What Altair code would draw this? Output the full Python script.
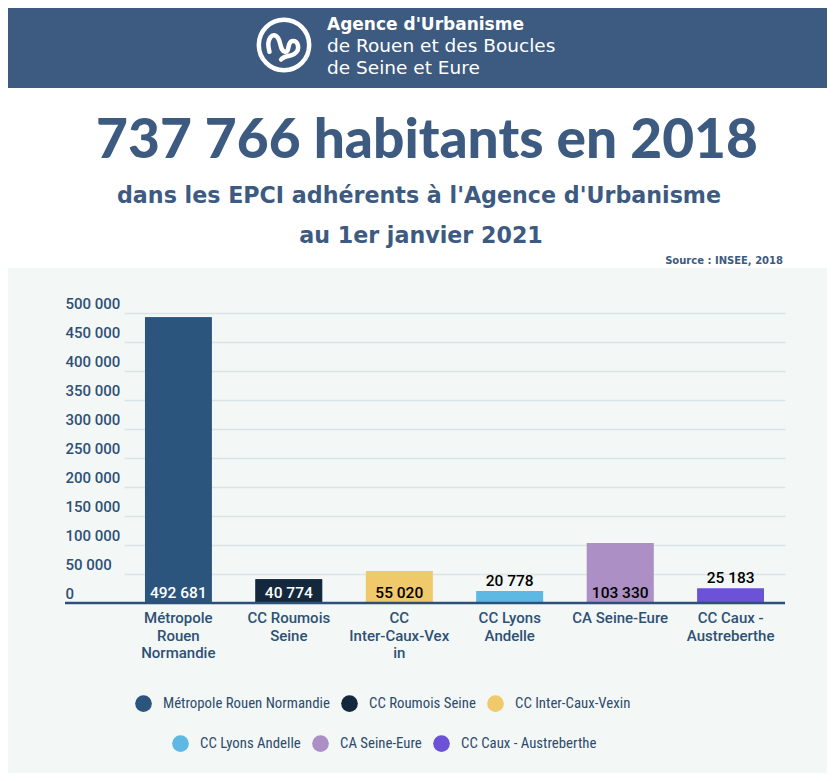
import altair as alt
import pandas as pd

# ---------------- data ----------------
categories = ["Métropole Rouen Normandie", "CC Roumois Seine", "CC Inter-Caux-Vexin",
              "CC Lyons Andelle", "CA Seine-Eure", "CC Caux - Austreberthe"]
values = [492681, 40774, 55020, 20778, 103330, 25183]
axis_labels = ["Métropole\nRouen\nNormandie", "CC Roumois\nSeine", "CC\nInter-Caux-Vex\nin",
               "CC Lyons\nAndelle", "CA Seine-Eure", "CC Caux -\nAustreberthe"]
colors = ["#2b557c", "#14283d", "#f0c96a", "#5db8e4", "#ab8fc5", "#6b52d6"]
y_ticks = [0, 50000, 100000, 150000, 200000, 250000, 300000, 350000, 400000, 450000, 500000]

title = "737 766 habitants en 2018"
subtitle1 = "dans les EPCI adhérents à l'Agence d'Urbanisme"
subtitle2 = "au 1er janvier 2021"
source = "Source : INSEE, 2018"
header_lines = ["Agence d'Urbanisme", "de Rouen et des Boucles", "de Seine et Eure"]

# ---------------- styles ----------------
DARK = "#3d5a80"
TXT = "#2f5075"
FONT = "Roboto"
W, H = 720, 290


def is_dark(hex_color):
    r, g, b = (int(hex_color[i:i + 2], 16) for i in (1, 3, 5))
    return 0.299 * r + 0.587 * g + 0.114 * b < 128


inside = [v >= 30000 for v in values]
df = pd.DataFrame({
    "category": categories,
    "value": values,
    "wrapped": axis_labels,
    "on_dark": [ins and is_dark(c) for ins, c in zip(inside, colors)],
})
one = pd.DataFrame({"k": [0]})

x_enc = alt.X("category:N", sort=categories, axis=None,
              scale=alt.Scale(domain=categories, range=[59, 720],
                              paddingInner=0.396, paddingOuter=0.19))
y_scale = alt.Scale(domain=[0, 500000], nice=False)
y_axis = alt.Axis(values=y_ticks, grid=True, gridColor="#dae4e7", gridWidth=1.5,
                  domain=False, ticks=False, labelAlign="left", labelBaseline="alphabetic",
                  labelPadding=0, labelOffset=-5, labelOverlap=False,
                  labelExpr="replace(format(datum.value, ','), ',', ' ')",
                  labelFont=FONT, labelFontSize=15, labelFontWeight=500,
                  labelColor=TXT, title=None)

# ---------------- background pieces ----------------
white_area = alt.Chart(one).mark_rect(color="white").encode(
    x=alt.value(-80), x2=alt.value(800), y=alt.value(-330), y2=alt.value(-45))
header_band = alt.Chart(one).mark_rect(color=DARK).encode(
    x=alt.value(-80), x2=alt.value(800), y=alt.value(-330), y2=alt.value(-225))

logo_ring = alt.Chart(one).mark_point(shape="circle", size=2540, filled=False,
                                      stroke="white", strokeWidth=4.5, opacity=1).encode(
    x=alt.value(219), y=alt.value(-268))
squiggle = ("M -0.75 0.35 C -0.95 -0.35 -0.55 -0.75 -0.3 -0.35 C -0.15 -0.1 -0.2 0.3 0.05 0.35 "
            "C 0.3 0.4 0.15 -0.1 0.4 -0.2 C 0.75 -0.3 0.85 0.25 0.55 0.45 C 0.35 0.6 0.0 0.55 -0.15 0.75")
logo_snake = alt.Chart(one).mark_point(shape=squiggle, size=1500, filled=False,
                                       stroke="white", strokeWidth=4.5, opacity=1,
                                       strokeCap="round").encode(
    x=alt.value(219), y=alt.value(-268))

hdr = []
for txt, wt, fs, yy in zip(header_lines, ["bold", "normal", "normal"], [17, 18.5, 18.5], [-283, -261, -239]):
    hdr.append(alt.Chart(one).mark_text(text=txt, font="DejaVu Sans", fontSize=fs, fontWeight=wt,
                                        color="white", align="left", baseline="alphabetic").encode(
        x=alt.value(262), y=alt.value(yy)))

t_main = alt.Chart(one).mark_text(text=title, font="Lato", fontSize=55, fontWeight=900,
                                  color=DARK, align="center", baseline="alphabetic").encode(
    x=alt.value(362), y=alt.value(-155))
t_sub1 = alt.Chart(one).mark_text(text=subtitle1, font="DejaVu Sans", fontSize=22.2, fontWeight="bold",
                                  color=DARK, align="center", baseline="alphabetic").encode(
    x=alt.value(354), y=alt.value(-110))
t_sub2 = alt.Chart(one).mark_text(text=subtitle2, font="DejaVu Sans", fontSize=22.2, fontWeight="bold",
                                  color=DARK, align="center", baseline="alphabetic").encode(
    x=alt.value(356), y=alt.value(-70))
t_src = alt.Chart(one).mark_text(text=source, font="DejaVu Sans", fontSize=10, fontWeight="bold",
                                 color=DARK, align="right", baseline="alphabetic").encode(
    x=alt.value(718), y=alt.value(-49))

# ---------------- chart ----------------
LEGEND_FONT = "Liberation Sans Narrow, Roboto Condensed, Roboto"
legend_common = dict(orient="none", direction="horizontal", title=None, symbolType="circle",
                     symbolSize=279, symbolStrokeWidth=0, labelFont=LEGEND_FONT, labelFontSize=14.8,
                     labelFontWeight="normal", labelColor="#2d4a6b", labelOffset=11, columnPadding=11,
                     padding=0, labelLimit=400, symbolOpacity=1)

bars_under = alt.Chart(df).mark_bar().encode(
    x=x_enc,
    y=alt.Y("value:Q", scale=y_scale, axis=y_axis),
    fill=alt.Fill("category:N", scale=alt.Scale(domain=categories, range=colors),
                  legend=alt.Legend(values=categories[3:], legendX=107, legendY=422, **legend_common)),
)
bars_over = alt.Chart(df).mark_bar().encode(
    x=x_enc,
    y=alt.Y("value:Q", scale=y_scale, axis=y_axis),
    color=alt.Color("category:N", scale=alt.Scale(domain=categories, range=colors),
                    legend=alt.Legend(values=categories[:3], legendX=70, legendY=382, **legend_common)),
)

baseline = alt.Chart(one).mark_rule(color="#2c5079", strokeWidth=2.5).encode(
    y=alt.value(H), x=alt.value(0), x2=alt.value(W))

value_labels = alt.Chart(df).transform_calculate(
    ly="datum.value < 30000 ? datum.value : 0",
    txt="replace(format(datum.value, ','), ',', ' ')",
).mark_text(dy=-5, baseline="alphabetic", font=FONT, fontSize=15.5, fontWeight=500).encode(
    x=x_enc,
    y=alt.Y("ly:Q", scale=y_scale, axis=y_axis),
    text="txt:N",
    color=alt.condition("datum.on_dark", alt.value("white"), alt.value("black")),
)

x_labels = alt.Chart(df).mark_text(lineBreak="\n", baseline="top", align="center", font=FONT,
                                   fontSize=15, fontWeight=500, color=TXT, lineHeight=17.5).encode(
    x=x_enc, y=alt.value(298), text="wrapped:N")

chart = alt.layer(
    white_area, header_band, logo_ring, logo_snake, *hdr, t_main, t_sub1, t_sub2, t_src,
    bars_under, bars_over, baseline, value_labels, x_labels,
).resolve_scale(color="independent", fill="independent").properties(
    width=W, height=H,
    autosize=alt.AutoSizeParams(type="none"),
    padding={"left": 57, "top": 305, "right": 42, "bottom": 170},
    background="#f3f8f7",
).configure_view(stroke=None)

chart.save("out.html", embed_options={"renderer": "svg", "actions": False})
